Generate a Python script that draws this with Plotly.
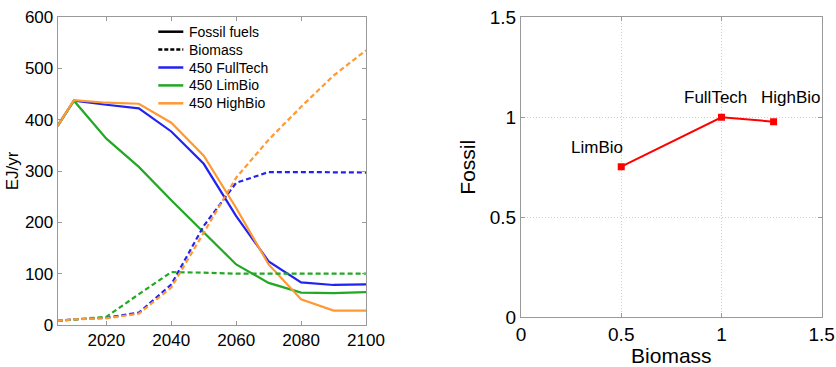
import plotly.graph_objects as go

years = [2005, 2010, 2020, 2030, 2040, 2050, 2060, 2070, 2080, 2090, 2100]
fossil_fulltech = [388, 437, 429, 422, 377, 314, 212, 124, 83, 78, 79]
fossil_limbio = [388, 437, 363, 308, 243, 180, 118, 82, 63, 62, 64]
fossil_highbio = [388, 438, 433, 431, 394, 330, 228, 118, 50, 28, 28]
biomass_fulltech = [8, 11, 14, 24, 79, 193, 277, 298, 298, 298, 297]
biomass_limbio = [8, 11, 16, 60, 103, 102, 100, 100, 100, 100, 100]
biomass_highbio = [8, 11, 13, 22, 73, 180, 287, 361, 425, 486, 535]

scenarios = ["LimBio", "FullTech", "HighBio"]
biomass_ratio = [0.5, 1.0, 1.26]
fossil_ratio = [0.753, 1.0, 0.978]
label_x = [0.377, 0.968, 1.347]
label_y = [0.848, 1.098, 1.098]

legend_labels = ["Fossil fuels", "Biomass", "450 FullTech", "450 LimBio", "450 HighBio"]

BLUE = "#2222f2"
GREEN = "#22a822"
ORANGE = "#ff9933"
FONT = "Liberation Sans, Arial, sans-serif"
FRAME = "#9a9a9a"
GRID = "#cfcfcf"
W, H = 836, 367

fig = go.Figure()

fossil = [(fossil_fulltech, BLUE), (fossil_limbio, GREEN), (fossil_highbio, ORANGE)]
for vals, col in fossil:
    fig.add_trace(go.Scatter(x=years, y=vals, mode="lines", showlegend=False,
                             line=dict(color=col, width=2.2), xaxis="x", yaxis="y"))
biomass = [(biomass_fulltech, BLUE), (biomass_limbio, GREEN), (biomass_highbio, ORANGE)]
for vals, col in biomass:
    fig.add_trace(go.Scatter(x=years, y=vals, mode="lines", showlegend=False,
                             line=dict(color=col, width=2.2, dash="5px,3px"),
                             xaxis="x", yaxis="y"))

fig.add_trace(go.Scatter(x=biomass_ratio, y=fossil_ratio, mode="lines+markers",
                         showlegend=False, line=dict(color="#ff0000", width=2),
                         marker=dict(symbol="square", size=7, color="#ff0000"),
                         xaxis="x2", yaxis="y2"))

for sx, sy, t in zip(label_x, label_y, scenarios):
    fig.add_annotation(x=sx, y=sy, xref="x2", yref="y2", text=t, showarrow=False,
                       font=dict(family=FONT, size=17, color="black"))

# legend (drawn as a key box inside the left panel)
legend_styles = [("black", "solid"), ("black", "4px,2px"),
                 (BLUE, "solid"), (GREEN, "solid"), (ORANGE, "solid")]
row0, row_gap = 31.7, 17.9
for i, (lab, (col, dash)) in enumerate(zip(legend_labels, legend_styles)):
    yp = 1 - (row0 + i * row_gap) / H
    fig.add_shape(type="line", xref="paper", yref="paper",
                  x0=158.3 / W, x1=183.3 / W, y0=yp, y1=yp,
                  line=dict(color=col, width=2.5, dash=dash))
    fig.add_annotation(x=187 / W, y=yp, xref="paper", yref="paper", text=lab,
                       showarrow=False, xanchor="left", yanchor="middle",
                       font=dict(family=FONT, size=14, color="black"))

axis_common = dict(showline=True, linecolor=FRAME, linewidth=1, mirror="ticks",
                   ticks="inside", ticklen=4, tickcolor=FRAME, zeroline=False,
                   automargin=False)

fig.update_layout(
    width=W, height=H,
    margin=dict(l=0, r=0, t=0, b=0),
    paper_bgcolor="white", plot_bgcolor="white",
    font=dict(family=FONT, color="black"),
    showlegend=False,
    xaxis=dict(domain=[0.069, 0.4378], range=[2005, 2100],
               tickvals=[2020, 2040, 2060, 2080, 2100], showgrid=False,
               anchor="y", tickfont=dict(family=FONT, size=17, color="black"),
               **axis_common),
    yaxis=dict(domain=[0.1144, 0.9537], range=[0, 600],
               tickvals=[0, 100, 200, 300, 400, 500, 600], showgrid=False,
               anchor="x", tickfont=dict(family=FONT, size=17, color="black"),
               title=dict(text="EJ/yr", font=dict(family=FONT, size=17), standoff=1),
               **axis_common),
    xaxis2=dict(domain=[0.6232, 0.9829], range=[0, 1.5],
                tickvals=[0, 0.5, 1, 1.5], ticktext=["0", "0.5", "1", "1.5"],
                showgrid=True, gridcolor=GRID, griddash="1px,2px", gridwidth=1,
                anchor="y2", tickfont=dict(family=FONT, size=19, color="black"),
                title=dict(text="Biomass", font=dict(family=FONT, size=21), standoff=0),
                **axis_common),
    yaxis2=dict(domain=[0.1354, 0.953], range=[0, 1.5],
                tickvals=[0, 0.5, 1, 1.5], ticktext=["0", "0.5", "1", "1.5"],
                showgrid=True, gridcolor=GRID, griddash="1px,2px", gridwidth=1,
                anchor="x2", tickfont=dict(family=FONT, size=19, color="black"),
                title=dict(text="Fossil", font=dict(family=FONT, size=21), standoff=8),
                **axis_common),
)

fig.write_html("out.html")
